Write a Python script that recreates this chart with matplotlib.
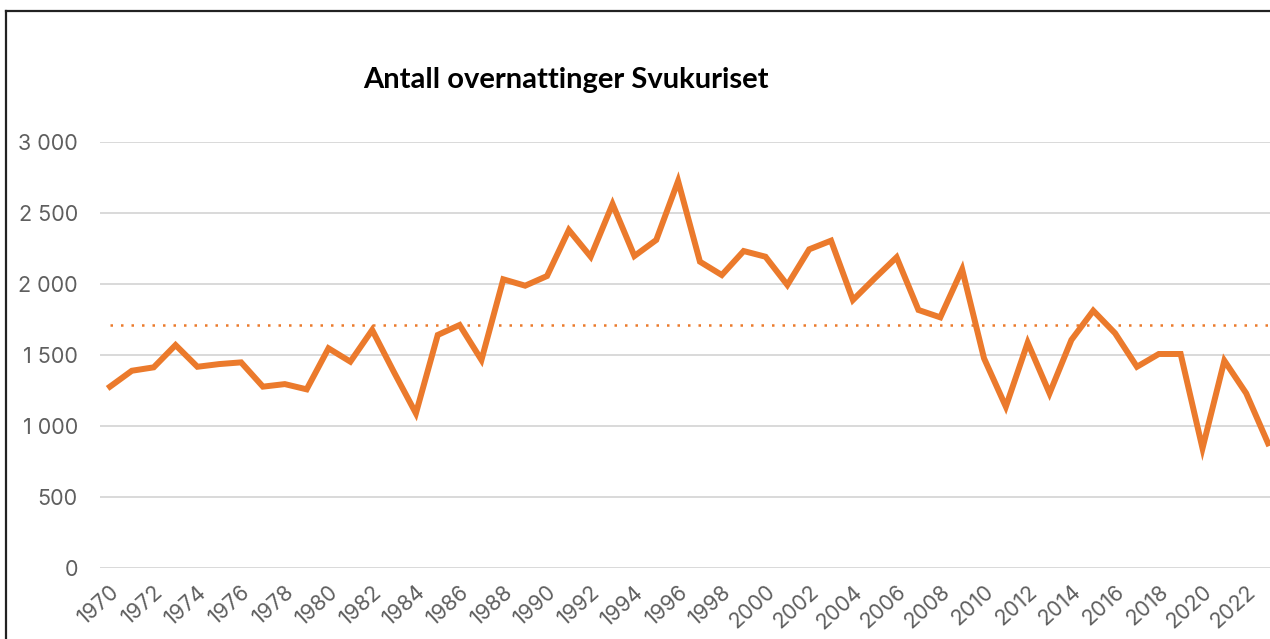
import numpy as np
import matplotlib
matplotlib.use('Agg')
import matplotlib.pyplot as plt
from matplotlib.ticker import FuncFormatter
from matplotlib.lines import Line2D

years = list(range(1970, 2024))
overnattinger = [
    1275, 1387, 1411, 1568, 1415, 1434, 1446, 1275, 1293, 1256,
    1545, 1451, 1674, 1376, 1087, 1639, 1709, 1463, 2031, 1986,
    2054, 2378, 2190, 2561, 2195, 2308, 2723, 2155, 2061, 2230,
    2190, 1991, 2242, 2303, 1885, 2038, 2186, 1815, 1763, 2101,
    1475, 1134, 1585, 1228, 1604, 1810, 1651, 1415, 1505, 1505,
    841, 1458, 1228, 876,
]
y_ticks = [0, 500, 1000, 1500, 2000, 2500, 3000]
x_ticks = list(range(1970, 2024, 2))

orange = '#EB7A2C'
plt.rcParams['font.family'] = ['Inter', 'DejaVu Sans']

W, H = 1270, 639
fig = plt.figure(figsize=(W / 100, H / 100), dpi=100)

# axes placed in pixels: left edge 100px, runs past the right edge of the picture
ax_left, ax_right = 100, 1300
ax_top, ax_bottom = 141.7, 567.7
ax = fig.add_axes([ax_left / W, (H - ax_bottom) / H,
                   (ax_right - ax_left) / W, (ax_bottom - ax_top) / H])

px_per_year = 21.85
ax.set_xlim(1970 - (110 - ax_left) / px_per_year,
            1970 + (ax_right - 110) / px_per_year)
ax.set_ylim(0, 3000)

ax.plot(years, overnattinger, color=orange, linewidth=4.3,
        solid_joinstyle='miter', clip_on=False, zorder=3)

mean_val = np.mean(overnattinger)
ax.plot([years[0], years[-1]], [mean_val, mean_val], color=orange,
        linewidth=1.8, linestyle=(0, (1, 3.2)), zorder=2)

ax.set_yticks(y_ticks)
ax.yaxis.set_major_formatter(FuncFormatter(lambda v, p: f'{int(v):,}'.replace(',', ' ')))
ax.set_xticks(x_ticks)
ax.set_xticklabels([str(x) for x in x_ticks], rotation=42, ha='right', va='top',
                   rotation_mode='anchor')

ax.grid(axis='y', color='#d9d9d9', linewidth=1.4)
ax.set_axisbelow(True)
for s in ax.spines.values():
    s.set_visible(False)
ax.tick_params(axis='both', length=0, colors='#5f5f5f', labelsize=15.5)
ax.tick_params(axis='y', pad=16)
ax.tick_params(axis='x', pad=10)

fig.text(566 / W, (H - 88) / H, 'Antall overnattinger Svukuriset',
         ha='center', va='baseline', fontsize=21, fontweight='bold', color='black',
         family=['Lato', 'DejaVu Sans'])

# frame lines at the left and top edge
fig.add_artist(Line2D([6 / W, 6 / W], [0, (H - 11) / H], color='#222222', linewidth=1.6))
fig.add_artist(Line2D([6 / W, 1], [(H - 11) / H, (H - 11) / H], color='#222222', linewidth=1.6))

fig.savefig('out.png', dpi=100)
